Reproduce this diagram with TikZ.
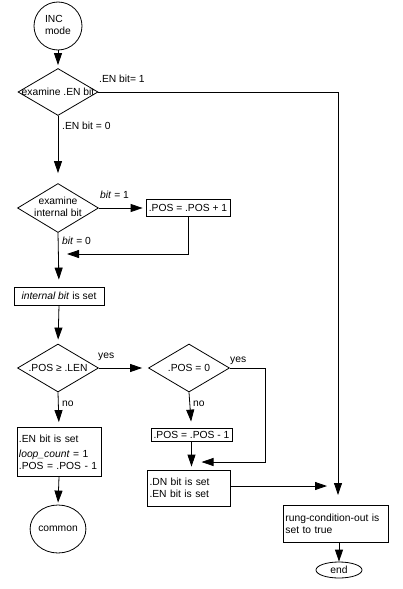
\documentclass[tikz,border=0pt]{standalone}
\usepackage{fontspec}
\setmainfont{Liberation Sans}
\usetikzlibrary{shapes.geometric,arrows.meta}
\begin{document}
\begin{tikzpicture}[x=1pt,y=-1pt,
  every node/.style={font=\fontsize{10.3}{12}\selectfont, inner sep=0pt},
  dia/.style={draw, diamond, line width=0.8pt, minimum width=81pt, minimum height=48pt},
  box/.style={draw, rectangle, line width=0.8pt, align=left, inner sep=2pt},
  term/.style={draw, ellipse, line width=0.8pt},
  lbl/.style={anchor=west},
  line/.style={line width=0.8pt},
  arr/.style={line width=0.8pt, -{Triangle[length=12pt,width=8pt]}}]
\useasboundingbox (0,0) rectangle (402,589);
% nodes
\node[term, minimum width=48pt, minimum height=48pt] (inc) at (58,26) {\begin{tabular}{@{}l@{}}INC\\mode\end{tabular}};
\node[dia, minimum width=80pt, minimum height=47pt] (d1) at (58,92) {\makebox[0pt]{examine .EN bit}};
\node[dia, minimum height=49pt] (d2) at (58,208) {\makebox[0pt]{\begin{tabular}{@{}c@{}}examine\\internal bit\end{tabular}}};
\node[box, minimum width=84pt, minimum height=17pt] (pos1) at (188,208) {.POS = .POS + 1};
\node[box, minimum width=90pt, minimum height=18pt] (ibs) at (59,296) {\textit{internal bit} is set};
\node[dia] (d3) at (58,368) {\makebox[0pt]{.POS ≥ .LEN}};
\node[dia] (d4) at (189,368) {\makebox[0pt]{.POS = 0}};
\node[box, text width=80pt, minimum height=49pt] (enb) at (59,452) {\setlength{\baselineskip}{15pt}.EN bit is set\\\textit{loop\_count} = 1\\.POS = .POS - 1};
\node[term, minimum width=50pt, minimum height=48pt] (common) at (58,529) {common};
\node[box, minimum width=81pt, minimum height=13pt, inner sep=1pt] (posm) at (191.5,434.5) {.POS = .POS - 1};
\node[box, text width=79pt, minimum height=36pt] (dn) at (189,488) {\setlength{\baselineskip}{15pt}.DN bit is set\\.EN bit is set};
\node[box, text width=101pt, minimum height=37pt, anchor=north west] (rung) at (283,505) {\setlength{\baselineskip}{11pt}rung-condition-out is\\set to true};
\node[term, minimum width=46pt, minimum height=16pt] (end) at (339,570) {end};
% junction points
\coordinate (j1) at (58,254);
\coordinate (j2) at (191.5,462);
\coordinate (j3) at (338,486);
% connectors
\draw[arr, shorten >=3pt] (inc) -- (d1.north);
\draw[arr, shorten >=10pt] (d1.east) -- (338,92) -- (rung.north -| j3);
\node[lbl] at (99,79) {.EN bit= 1};
\draw[arr, shorten >=10pt] (d1.south) -- (d2.north);
\node[lbl] at (62,126) {.EN bit = 0};
\draw[arr, shorten >=3pt] (d2.east) -- (pos1.west);
\node[lbl] at (100,195) {\textit{bit} = 1};
\draw[arr, shorten >=9pt] (pos1.south) |- (j1);
\draw[arr, shorten >=7pt] (d2.south) -- (ibs.north);
\node[lbl] at (62,241) {\textit{bit} = 0};
\draw[arr, shorten >=4pt] (ibs.south) -- (d3.north);
\draw[arr, shorten >=6pt] (d3.east) -- (d4.west);
\node[lbl] at (98,357) {yes};
\draw[arr, shorten >=5pt] (d3.south) -- (enb.north);
\node[lbl] at (62,404) {no};
\draw[arr, shorten >=2pt] (enb.south) -- (common.north);
\draw[arr, shorten >=6pt] (d4.south) -- (posm.north);
\node[lbl] at (193,404) {no};
\draw[arr, shorten >=3pt] (posm.south) -- (dn.north -| posm.south);
\draw[arr, shorten >=10pt] (d4.east) -- (265,368) |- (j2);
\node[lbl] at (230,361) {yes};
\draw[arr, shorten >=11pt] (dn.east |- j3) -- (j3);
\draw[arr] (rung.south -| end.north) -- (end.north);
\end{tikzpicture}
\end{document}
